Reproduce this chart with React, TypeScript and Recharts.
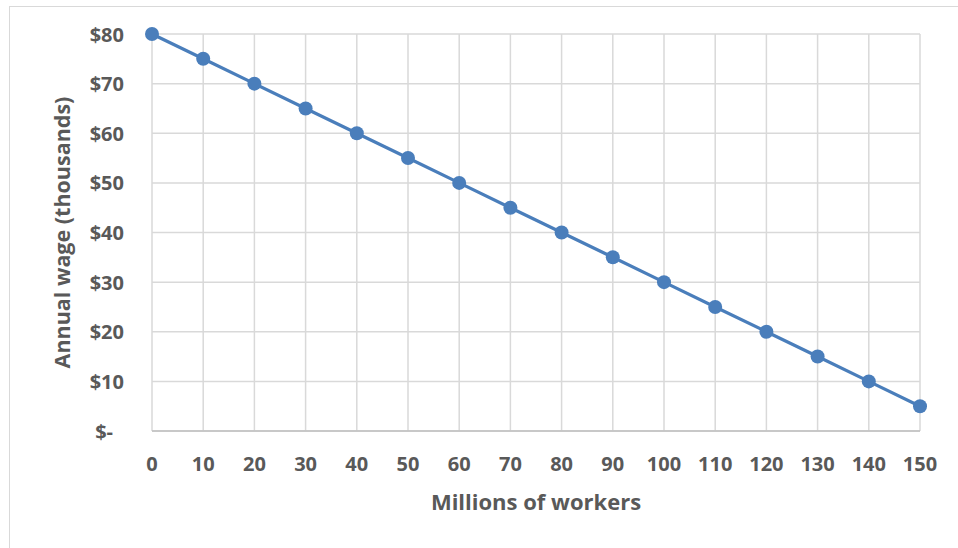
import React from "react";
import {
  LineChart,
  Line,
  XAxis,
  YAxis,
  CartesianGrid,
  Label,
} from "recharts";

const workers = [0, 10, 20, 30, 40, 50, 60, 70, 80, 90, 100, 110, 120, 130, 140, 150];
const wages = [80, 75, 70, 65, 60, 55, 50, 45, 40, 35, 30, 25, 20, 15, 10, 5];
const wageTicks = [0, 10, 20, 30, 40, 50, 60, 70, 80];

const data = workers.map((w, i) => ({ workers: w, wage: wages[i] }));

const font = "'Open Sans', 'Liberation Sans', sans-serif";
const grey = "#595959";
const blue = "#4a7ebb";

const YTick = (props: any) => {
  const { x, y, payload } = props;
  const v = payload.value;
  return (
    <text
      x={x}
      y={y}
      dx={v === 0 ? -11 : 0}
      textAnchor="end"
      dominantBaseline="central"
      fontFamily={font}
      fontWeight={700}
      fontSize={20}
      fill={grey}
    >
      {v === 0 ? "$-" : `$${v}`}
    </text>
  );
};

const XTick = (props: any) => {
  const { x, y, payload } = props;
  return (
    <text
      x={x}
      y={y}
      textAnchor="middle"
      dominantBaseline="central"
      fontFamily={font}
      fontWeight={700}
      fontSize={20}
      fill={grey}
    >
      {payload.value}
    </text>
  );
};

export default function App() {
  return (
    <div
      style={{
        position: "absolute",
        left: 0,
        top: 0,
        width: 958,
        height: 548,
        overflow: "hidden",
        background: "#fff",
      }}
    >
      <div
        style={{
          position: "absolute",
          left: 9,
          top: 6,
          width: 960,
          height: 560,
          borderLeft: "1px solid #d9d9d9",
          borderTop: "1px solid #d9d9d9",
        }}
      />
      <div style={{ position: "absolute", left: 0, top: 0 }}>
        <LineChart
          width={958}
          height={548}
          data={data}
          margin={{ top: 34, right: 38, bottom: 0, left: 0 }}
        >
          <CartesianGrid stroke="#d9d9d9" strokeWidth={1.5} />
          <XAxis
            dataKey="workers"
            type="number"
            domain={[0, 150]}
            ticks={workers}
            height={117}
            axisLine={{ stroke: "#bfbfbf", strokeWidth: 1.5 }}
            tickLine={false}
            tickSize={0}
            tickMargin={32}
            tick={<XTick />}
            interval={0}
          >
            <Label
              content={(p: any) => {
                const vb = p.viewBox;
                return (
                  <text
                    x={vb.x + vb.width / 2}
                    y={vb.y + 70}
                    textAnchor="middle"
                    dominantBaseline="central"
                    fontFamily={font}
                    fontWeight={700}
                    fontSize={22}
                    fill={grey}
                  >
                    Millions of workers
                  </text>
                );
              }}
            />
          </XAxis>
          <YAxis
            type="number"
            domain={[0, 80]}
            ticks={wageTicks}
            width={152}
            axisLine={false}
            tickLine={false}
            tickSize={0}
            tickMargin={28}
            tick={<YTick />}
            interval={0}
          >
            <Label
              content={(p: any) => {
                const vb = p.viewBox;
                const cx = vb.x + 61;
                const cy = vb.y + vb.height / 2;
                return (
                  <text
                    x={cx}
                    y={cy}
                    transform={`rotate(-90 ${cx} ${cy})`}
                    textAnchor="middle"
                    dominantBaseline="central"
                    fontFamily={font}
                    fontWeight={700}
                    fontSize={21.5}
                    fill={grey}
                  >
                    Annual wage (thousands)
                  </text>
                );
              }}
            />
          </YAxis>
          <Line
            dataKey="wage"
            stroke={blue}
            strokeWidth={3.2}
            dot={{ r: 7, fill: blue, stroke: blue, strokeWidth: 0 }}
            activeDot={false}
            isAnimationActive={false}
          />
        </LineChart>
      </div>
    </div>
  );
}
